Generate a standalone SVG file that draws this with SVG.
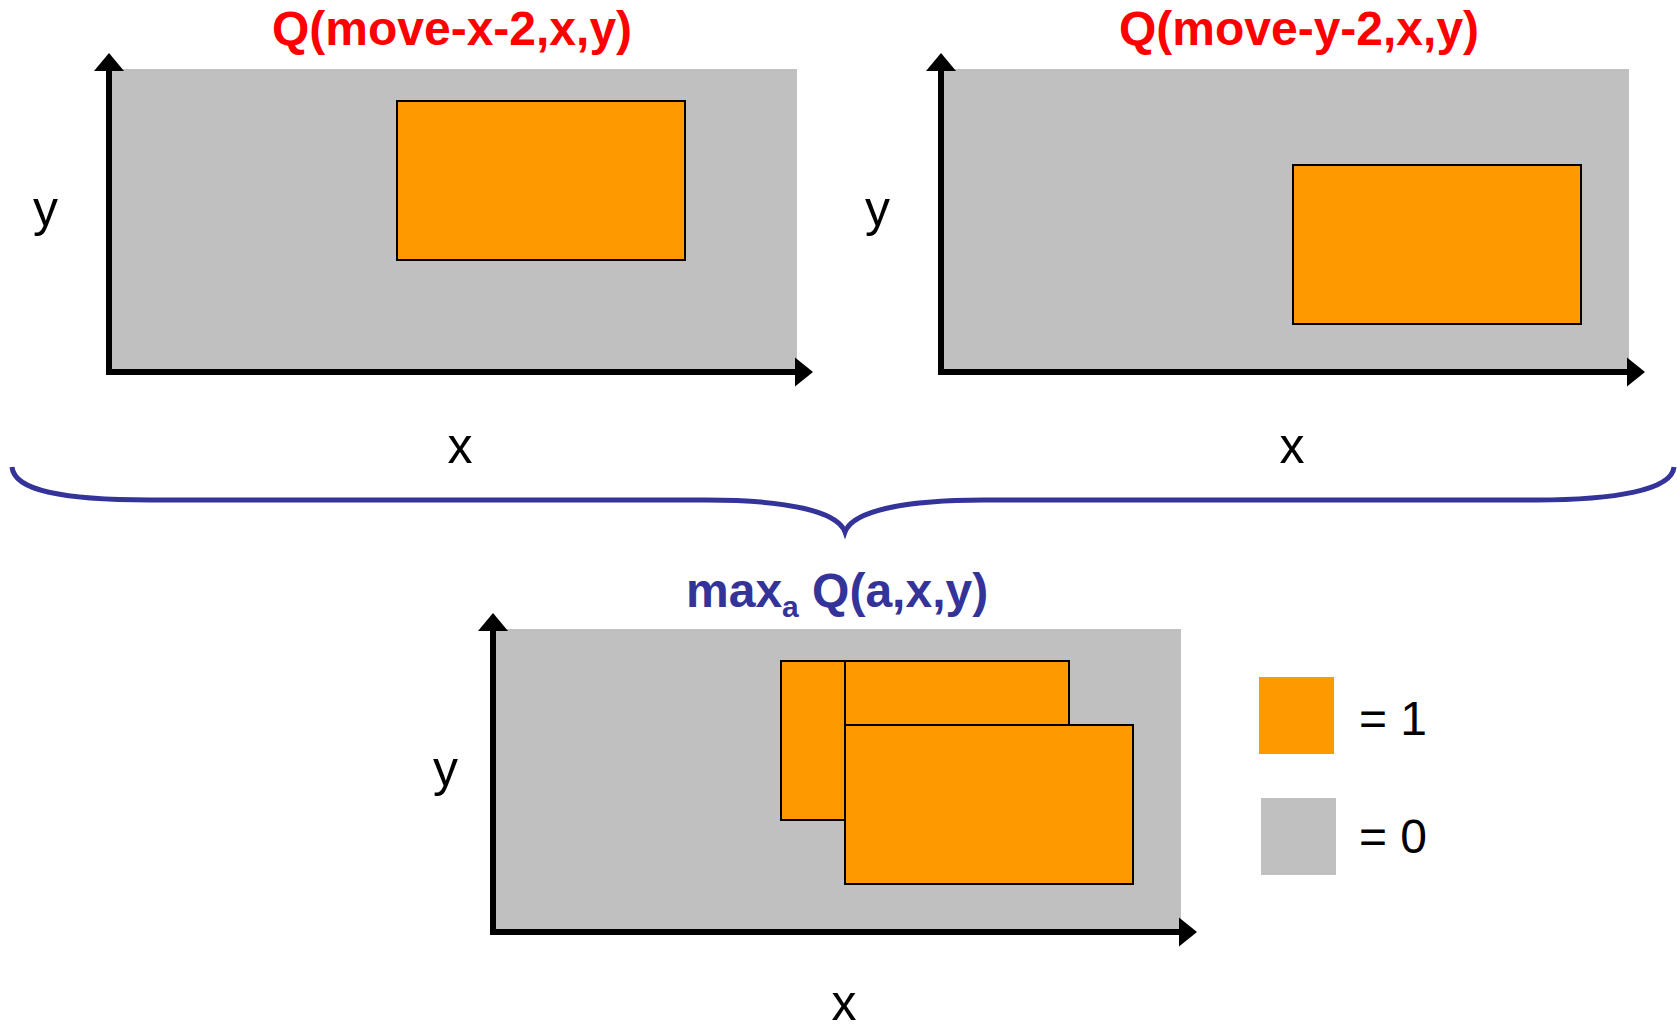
<svg xmlns="http://www.w3.org/2000/svg" width="1677" height="1025" viewBox="0 0 1677 1025">
<style>
.bg{fill:#C0C0C0}
.on{fill:#FF9900;stroke:#000;stroke-width:2}
.ax{stroke:#000;stroke-width:6;fill:none}
.ah{fill:#000}
.title{font-family:"Liberation Sans",Arial,sans-serif;font-weight:bold;font-size:48px}
.red{fill:#FF0000}
.blue{fill:#333399}
.lbl{font-family:"Liberation Sans",Arial,sans-serif;font-size:50px;fill:#000}
.leg{font-family:"Liberation Sans",Arial,sans-serif;font-size:48px;fill:#000}
</style>
<defs>
<g id="axes">
<line class="ax" x1="109" y1="375" x2="109" y2="70"/>
<polygon class="ah" points="109,53 94,71 124,71"/>
<line class="ax" x1="106" y1="372" x2="796" y2="372"/>
<polygon class="ah" points="813,372 795,357.5 795,386.5"/>
</g>
</defs>
<g id="panel-move-x">
<rect class="bg" x="112" y="69" width="685" height="300"/>
<rect class="on" x="397" y="101" width="288" height="159"/>
<use href="#axes"/>
<text class="title red" x="452" y="45" text-anchor="middle">Q(move-x-2,x,y)</text>
<text class="lbl" x="33" y="226">y</text>
<text class="lbl" x="460" y="463" text-anchor="middle">x</text>
</g>
<g id="panel-move-y">
<rect class="bg" x="944" y="69" width="685" height="300"/>
<rect class="on" x="1293" y="165" width="288" height="159"/>
<use href="#axes" transform="translate(832,0)"/>
<text class="title red" x="1299" y="45" text-anchor="middle">Q(move-y-2,x,y)</text>
<text class="lbl" x="865" y="226">y</text>
<text class="lbl" x="1292" y="463" text-anchor="middle">x</text>
</g>
<g id="connectors">
<path d="M 12 467 C 14 490, 60 500, 150 500 L 706 500 C 790 500, 838 512, 845 532 C 852 512, 900 500, 984 500 L 1536 500 C 1615 500, 1672 490, 1674 467" fill="none" stroke="#333399" stroke-width="5"/>
</g>
<g id="panel-max">
<rect class="bg" x="496" y="629" width="685" height="300"/>
<rect class="on" x="781" y="661" width="288" height="159"/>
<rect class="on" x="845" y="725" width="288" height="159"/>
<line x1="845" y1="661" x2="845" y2="725" stroke="#000" stroke-width="2"/>
<use href="#axes" transform="translate(384,560)"/>
<text class="title blue" x="686" y="607">max<tspan font-size="30" dy="10">a</tspan><tspan dy="-10"> Q(a,x,y)</tspan></text>
<text class="lbl" x="433" y="786">y</text>
<text class="lbl" x="844" y="1020" text-anchor="middle">x</text>
</g>
<g id="legend-one">
<rect fill="#FF9900" x="1259" y="677" width="75" height="77"/>
<text class="leg" x="1359" y="735">= 1</text>
</g>
<g id="legend-zero">
<rect fill="#C0C0C0" x="1261" y="798" width="75" height="77"/>
<text class="leg" x="1359" y="853">= 0</text>
</g>
</svg>
